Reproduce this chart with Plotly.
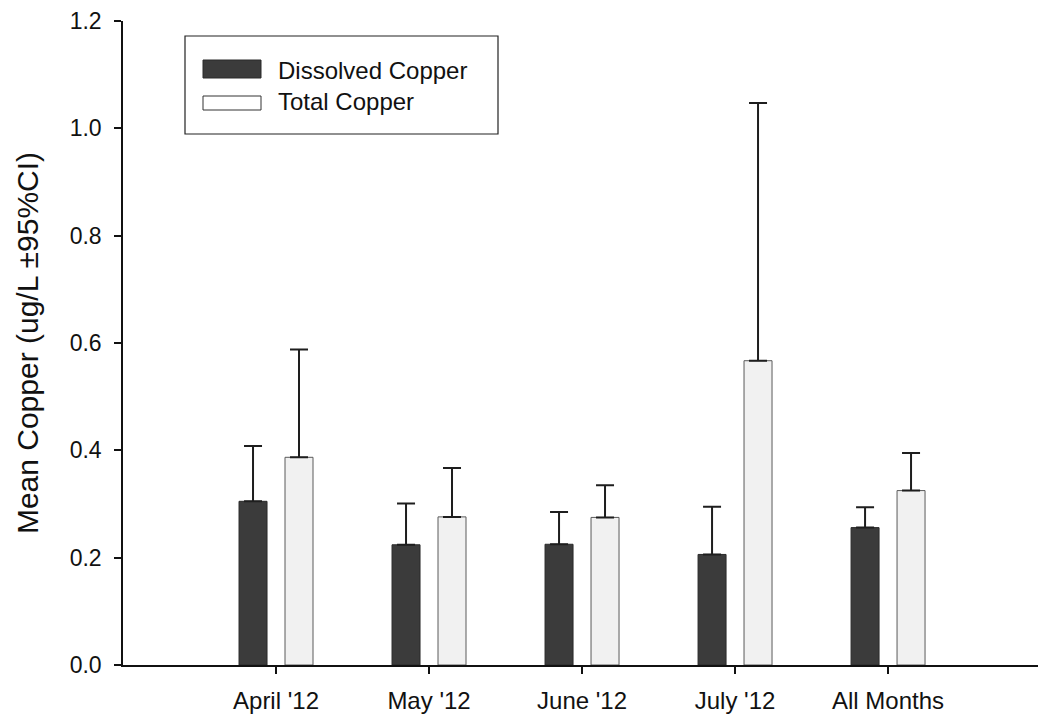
import plotly.graph_objects as go

# Monthly copper means with upper 95% confidence half-widths (ug/L)
months = ["April '12", "May '12", "June '12", "July '12", "All Months"]
dissolved_mean = [0.305, 0.224, 0.225, 0.206, 0.256]
dissolved_ci = [0.103, 0.077, 0.060, 0.089, 0.038]
total_mean = [0.387, 0.276, 0.275, 0.567, 0.325]
total_ci = [0.201, 0.091, 0.060, 0.480, 0.070]
y_ticks = [0.0, 0.2, 0.4, 0.6, 0.8, 1.0, 1.2]

series_names = ["Dissolved Copper", "Total Copper"]
dark_fill = "#3b3b3b"
light_fill = "#f1f1f1"
ink = "#1e1e1e"
font_family = "Liberation Sans, Arial, sans-serif"

fig = go.Figure()

fig.add_trace(go.Bar(
    name=series_names[0],
    x=months,
    y=dissolved_mean,
    marker=dict(color=dark_fill, line=dict(color="#2a2a2a", width=1)),
    error_y=dict(type="data", symmetric=False, array=dissolved_ci,
                 arrayminus=[0] * len(dissolved_ci),
                 color=ink, thickness=2, width=9),
    showlegend=False,
))
fig.add_trace(go.Bar(
    name=series_names[1],
    x=months,
    y=total_mean,
    marker=dict(color=light_fill, line=dict(color="#5a5a5a", width=1)),
    error_y=dict(type="data", symmetric=False, array=total_ci,
                 arrayminus=[0] * len(total_ci),
                 color=ink, thickness=2, width=9),
    showlegend=False,
))

# Boxed key in the upper-left corner of the plot
def px_x(px):
    return (px - 123) / 915.0

def px_y(py):
    return (665 - py) / 644.0

shapes = [
    dict(type="rect", xref="paper", yref="paper",
         x0=px_x(185), x1=px_x(498), y0=px_y(134), y1=px_y(36),
         line=dict(color="#222222", width=1.2), fillcolor="white", layer="above"),
    dict(type="rect", xref="paper", yref="paper",
         x0=px_x(203), x1=px_x(261), y0=px_y(78), y1=px_y(60),
         line=dict(color="#2a2a2a", width=1), fillcolor=dark_fill, layer="above"),
    dict(type="rect", xref="paper", yref="paper",
         x0=px_x(203), x1=px_x(261), y0=px_y(110), y1=px_y(96),
         line=dict(color="#333333", width=1), fillcolor="white", layer="above"),
]
annotations = [
    dict(xref="paper", yref="paper", x=px_x(276), y=px_y(70),
         xanchor="left", yanchor="middle", showarrow=False,
         text=series_names[0], font=dict(size=24, color="#111111", family=font_family)),
    dict(xref="paper", yref="paper", x=px_x(276), y=px_y(102),
         xanchor="left", yanchor="middle", showarrow=False,
         text=series_names[1], font=dict(size=24, color="#111111", family=font_family)),
]

fig.update_layout(
    width=1038,
    height=721,
    margin=dict(l=123, r=0, t=21, b=56),
    paper_bgcolor="white",
    plot_bgcolor="white",
    barmode="group",
    bargap=0.399,
    bargroupgap=0.391,
    font=dict(family=font_family, color="#111111"),
    shapes=shapes,
    annotations=annotations,
    xaxis=dict(
        type="category",
        range=[-1, 4.98],
        showline=True, linecolor="#111111", linewidth=1.5,
        ticks="outside", ticklen=7, tickwidth=1.5, tickcolor="#111111",
        tickfont=dict(size=24, family=font_family, color="#111111"),
        ticklabelstandoff=6,
        showgrid=False, zeroline=False,
    ),
    yaxis=dict(
        range=[0, 1.2],
        tickvals=y_ticks,
        tickformat=".1f",
        showline=True, linecolor="#111111", linewidth=1.5,
        ticks="outside", ticklen=7, tickwidth=1.5, tickcolor="#111111",
        tickfont=dict(size=23, family=font_family, color="#111111"),
        ticklabelstandoff=8,
        showgrid=False, zeroline=False,
        title=dict(text="Mean Copper (ug/L ±95%CI)",
                   font=dict(size=30, family=font_family, color="#111111"),
                   standoff=22),
    ),
)

fig.write_html("out.html")
